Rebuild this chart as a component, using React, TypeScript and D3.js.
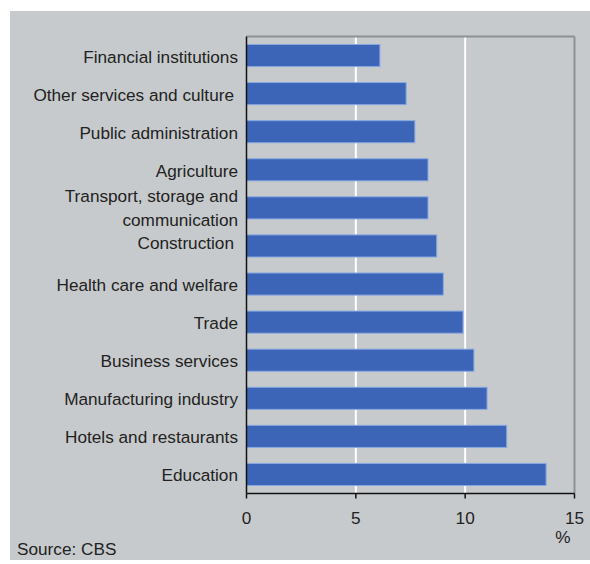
import React from "react";
import * as d3 from "d3";

const categories = [
  "Financial institutions",
  "Other services and culture",
  "Public administration",
  "Agriculture",
  "Transport, storage and communication",
  "Construction",
  "Health care and welfare",
  "Trade",
  "Business services",
  "Manufacturing industry",
  "Hotels and restaurants",
  "Education",
];
const values = [6.1, 7.3, 7.7, 8.3, 8.3, 8.7, 9.0, 9.9, 10.4, 11.0, 11.9, 13.7];
const xTicks = [0, 5, 10, 15];
const gridTicks = [5, 10];

export default function App() {
  const W = 590, H = 564;
  const left = 246.5, right = 574.5, top = 36.5, bottom = 493.5;
  const x = d3.scaleLinear().domain([0, 15]).range([left, right]);
  const y = d3.scaleBand<string>().domain(categories).range([top, bottom]).paddingInner(0.42).paddingOuter(0.21);
  const font = "'Liberation Sans', Arial, sans-serif";
  const fs = 17.2;
  return (
    <svg width={W} height={H} style={{ position: "absolute", left: 0, top: 0 }}>
      <rect x={0} y={0} width={W} height={H} fill="#ffffff" />
      <rect x={10} y={11} width={580} height={549} fill="#c7cacc" />
      {gridTicks.map((t) => (
        <line key={t} x1={x(t)} x2={x(t)} y1={top} y2={bottom} stroke="#ffffff" strokeWidth={2} />
      ))}
      <line x1={left} x2={right} y1={top} y2={top} stroke="#8c9194" strokeWidth={2} />
      <line x1={right} x2={right} y1={top} y2={bottom} stroke="#8c9194" strokeWidth={2} />
      {categories.map((c, i) => (
        <rect
          key={c}
          x={x(0)}
          y={y(c)!}
          width={x(values[i]) - x(0)}
          height={y.bandwidth()}
          fill="#3c64b7"
          stroke="#86a8e2"
          strokeWidth={1}
        />
      ))}
      <line x1={left} x2={left} y1={top} y2={bottom} stroke="#111" strokeWidth={1.5} />
      <line x1={left} x2={right} y1={bottom} y2={bottom} stroke="#111" strokeWidth={1.5} />
      {xTicks.map((t) => (
        <g key={t}>
          <line x1={x(t)} x2={x(t)} y1={bottom} y2={bottom + 5} stroke="#111" strokeWidth={1.5} />
          <text x={x(t)} y={518} textAnchor="middle" dominantBaseline="central" fontFamily={font} fontSize={fs} fill="#222">
            {t}
          </text>
        </g>
      ))}
      <text x={563} y={537} textAnchor="middle" dominantBaseline="central" fontFamily={font} fontSize={fs} fill="#222">%</text>
      {categories.map((c) => {
        const cy = y(c)! + y.bandwidth() / 2;
        if (c.startsWith("Transport")) {
          return (
            <g key={c}>
              <text x={238} y={cy - 12} textAnchor="end" dominantBaseline="central" fontFamily={font} fontSize={fs} fill="#222">Transport, storage and</text>
              <text x={238} y={cy + 12} textAnchor="end" dominantBaseline="central" fontFamily={font} fontSize={fs} fill="#222">communication</text>
            </g>
          );
        }
        const shifted = c === "Other services and culture" || c === "Construction";
        return (
          <text key={c} x={shifted ? 234 : 238} y={c === "Construction" ? cy - 3 : cy + 1} textAnchor="end" dominantBaseline="central" fontFamily={font} fontSize={fs} fill="#222">
            {c}
          </text>
        );
      })}
      <text x={17} y={549} dominantBaseline="central" fontFamily={font} fontSize={fs} fill="#222">Source: CBS</text>
    </svg>
  );
}
